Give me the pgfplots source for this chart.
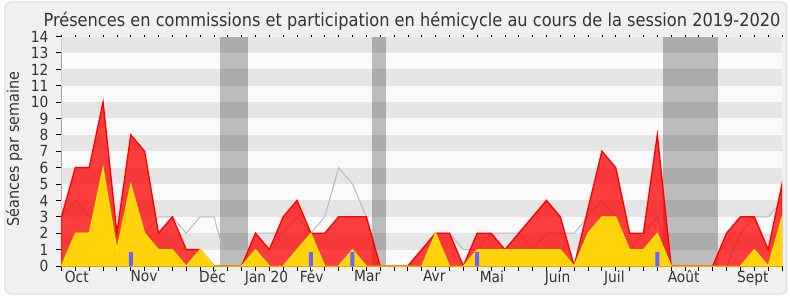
\documentclass[border=0pt]{standalone}
\usepackage{fontspec}
\setmainfont{DejaVu Sans Condensed}
\usepackage{pgfplots}
\pgfplotsset{compat=1.18}
\usepackage{pgfplotstable}
\definecolor{txt}{HTML}{333333}
\definecolor{stripeD}{HTML}{E5E5E5}
\definecolor{stripeL}{HTML}{FAFAFA}
\definecolor{frameF}{HTML}{F0F0F0}
\definecolor{frameD}{HTML}{DCDCDC}
\definecolor{redE}{HTML}{FF0000}
\definecolor{yelF}{HTML}{FFD20A}
\definecolor{yelE}{HTML}{FFEE00}
\definecolor{blueB}{HTML}{6464FF}
\definecolor{grayL}{HTML}{BBBBBB}

\pgfplotstableread{
w red yel med
0 3 0 3
1 6 2 4
2 6 2 3
3 10 6 3
4 2 1 3
5 8 5 3
6 7 2 2
7 2 1 3
8 3 1 3
9 1 0 2
10 1 1 3
11 0 0 3
12 0 0 0
13 0 0 0
14 2 1 2
15 1 0 2
16 3 0 2
17 4 1 3
18 2 2 2
19 2 0 3
20 3 0 6
21 3 1 5
22 3 0 3
23 0 0 0
24 0 0 0
25 0 0 0
26 1 0 1
27 2 2 2
28 2 0 2
29 0 0 1
30 2 1 1
31 2 1 2
32 1 1 2
33 2 1 2
34 3 1 1
35 4 1 2
36 3 1 2
37 0 0 2
38 3.5 2 3
39 7 3 4
40 6 3 3
41 2 1 1
42 2 1 2
43 8 2 3
44 0 0 0
45 0 0 0
46 0 0 0
47 0 0 0
48 2 0 0
49 3 0 2
50 3 1 3
51 1 0 3
52 5 3 4
}\data

\pgfplotstableread{
w v
5 0.85
18 0.85
21 0.85
30 0.85
43 0.85
}\bluedata

\begin{document}
\begin{tikzpicture}
\useasboundingbox (-46.125pt,-25.5pt) rectangle (546.375pt,199.5pt);
\fill[white] (-46.125pt,-25.5pt) rectangle (546.375pt,199.5pt);
\draw[frameD, fill=frameF, rounded corners=4pt, line width=0.75pt] (-42.4pt,-21pt) rectangle (544.1pt,198pt);
\begin{axis}[
  scale only axis, width=540.4pt, height=172.1pt,
  xmin=0, xmax=52, ymin=0, ymax=14,
  axis x line*=bottom, axis y line*=left,
  axis line style={black, line width=0.75pt},
  xtick={0,...,52}, xticklabels={},
  ytick={0,...,14},
  tick align=outside, major tick length=3.75pt,
  tick style={black, line width=0.75pt},
  extra x ticks={1.1,5.96,10.9,14.8,18.06,22.06,26.9,31.06,35.8,39.9,44.9,49.9},
  extra x tick labels={Oct,Nov,Déc,Jan 20,Fév,Mar,Avr,Mai,Juin,Juil,Août,Sept},
  extra x tick style={major tick length=0pt, tick style={draw=none}},
  xticklabel style={font=\fontsize{11.5}{13}\selectfont, text=txt},
  yticklabel style={font=\fontsize{11.5}{13}\selectfont, text=txt, xshift=-2.5pt},
  /pgf/number format/assume math mode=true,
]
\fill[stripeL] (axis cs:0,0) rectangle (axis cs:52,14);
\fill[stripeD] (axis cs:0,1) rectangle (axis cs:52,2);
\fill[stripeD] (axis cs:0,3) rectangle (axis cs:52,4);
\fill[stripeD] (axis cs:0,5) rectangle (axis cs:52,6);
\fill[stripeD] (axis cs:0,7) rectangle (axis cs:52,8);
\fill[stripeD] (axis cs:0,9) rectangle (axis cs:52,10);
\fill[stripeD] (axis cs:0,11) rectangle (axis cs:52,12);
\fill[stripeD] (axis cs:0,13) rectangle (axis cs:52,14);
\fill[black, opacity=0.25] (axis cs:11.45,0) rectangle (axis cs:13.45,14);
\fill[black, opacity=0.25] (axis cs:22.4,0) rectangle (axis cs:23.4,14);
\fill[black, opacity=0.25] (axis cs:43.4,0) rectangle (axis cs:47.4,14);
\addplot[grayL, line width=0.75pt, mark=none] table[x=w,y=med]{\data};
\addplot[draw=redE, line width=1pt, fill=redE, fill opacity=0.75, mark=none] table[x=w,y=red]{\data} \closedcycle;
\addplot[draw=yelE, line width=0.75pt, fill=yelF, mark=none] table[x=w,y=yel]{\data} \closedcycle;
\addplot[ybar, bar width=0.29, fill=blueB, draw=none] table[x=w,y=v]{\bluedata};
\end{axis}
\begin{axis}[
  scale only axis, width=540.4pt, height=172.1pt,
  xmin=0, xmax=52, ymin=0, ymax=14,
  axis x line*=top, hide y axis,
  x axis line style={draw=none},
  xtick={0,...,52}, xticklabels={},
  tick align=outside, major tick length=1.3pt,
  tick style={black, line width=0.6pt},
]
\addplot[draw=none] coordinates {(0,0)};
\end{axis}
\node[anchor=base, text=txt, font=\fontsize{13.5}{15}\selectfont] at (262.9pt,179.3pt) {Présences en commissions et participation en hémicycle au cours de la session 2019-2020};
\node[rotate=90, text=txt, font=\fontsize{12}{14}\selectfont] at (-35.5pt,87.75pt) {Séances par semaine};
\end{tikzpicture}
\end{document}
